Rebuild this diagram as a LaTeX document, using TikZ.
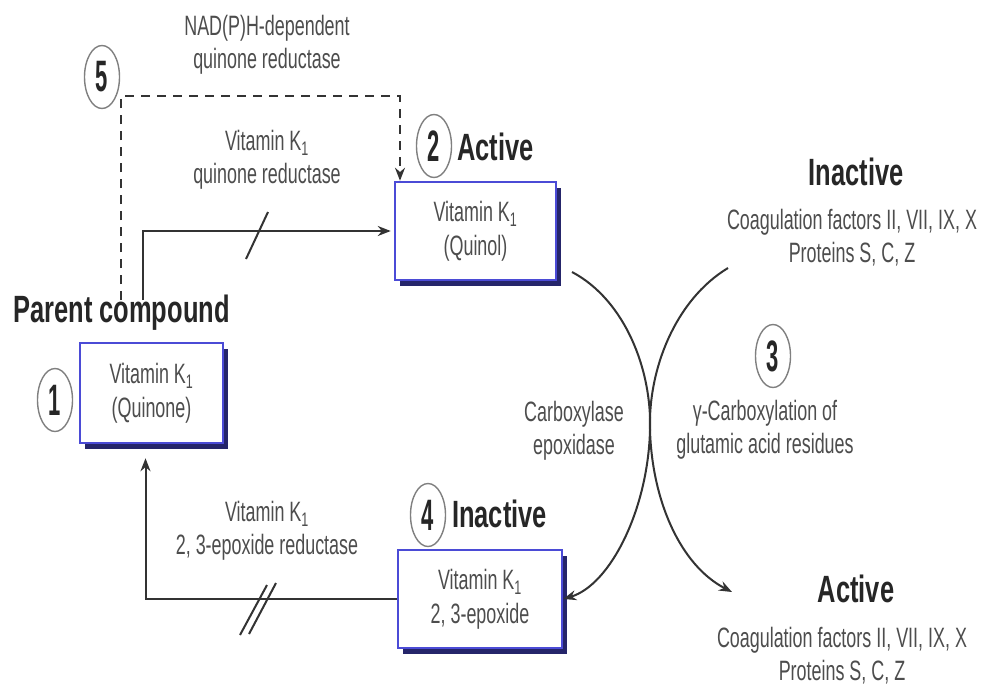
\documentclass[tikz,border=0pt]{standalone}
\usepackage{fontspec}
\setmainfont{Liberation Sans}[FakeStretch=0.64]
\newfontfamily\headfont{Liberation Sans}[FakeStretch=0.67]
\newfontfamily\numfont{Liberation Sans}[FakeStretch=0.5]
\usetikzlibrary{arrows.meta,shadows,shapes.geometric}
\definecolor{boxblue}{HTML}{4B4BD6}
\definecolor{shadownavy}{HTML}{25256A}
\definecolor{txtgray}{HTML}{4D4D4D}
\definecolor{linegray}{HTML}{333333}
\begin{document}
\begin{tikzpicture}[x=1pt,y=-1pt,
 lbl/.style={text=txtgray, font=\fontsize{28}{33}\selectfont, align=center, inner sep=0pt},
 head/.style={text=black!85, font=\headfont\bfseries\fontsize{38}{40}\selectfont, inner sep=0pt},
 num/.style={ellipse, draw=black!50, line width=1.4pt, minimum width=35pt, minimum height=63pt, inner sep=0pt, font=\numfont\bfseries\fontsize{44}{44}\selectfont, text=black!85},
 vbox/.style={rectangle, draw=boxblue, line width=2.5pt, fill=white, align=center, text=txtgray, font=\fontsize{28}{34}\selectfont, inner sep=0pt, drop shadow={shadow xshift=5pt, shadow yshift=-6pt, fill=shadownavy, opacity=1}},
 conn/.style={draw=linegray, line width=2pt},
 tip/.style={-{Stealth[length=13pt,width=10pt]}},
 arr/.style={conn, tip},
 dashline/.style={conn, dash pattern=on 9pt off 7pt},
]
\fill[white] (0,0) rectangle (985,694);
\useasboundingbox (0,0) rectangle (985,694);

% boxes
\node[vbox, minimum width=143pt, minimum height=100pt] (qk) at (151.5,393) {Vitamin K\textsubscript{1}\\(Quinone)};
\node[vbox, minimum width=161pt, minimum height=98pt] (qn) at (475.5,231) {Vitamin K\textsubscript{1}\\(Quinol)};
\node[vbox, minimum width=164pt, minimum height=98pt] (ep) at (480,599) {Vitamin K\textsubscript{1}\\2, 3-epoxide};

% numbers
\node[num] (n1) at (55,400) {1};
\node[num] (n2) at (434,146) {2};
\node[num] (n3) at (773,356) {3};
\node[num] (n4) at (428,515) {4};
\node[num] (n5) at (102,77) {5};

% headings
\node[head, anchor=base] (hpc) at (121.5,322) {Parent compound};
\node[head, anchor=base west] (ha2) at (457,160) {Active};
\node[head, anchor=base west] (hi4) at (452,527) {Inactive};
\node[head, anchor=base] (hir) at (856,185) {Inactive};
\node[head, anchor=base] (har) at (856,602) {Active};

% labels
\node[lbl] (lnad) at (267,45) {NAD(P)H-dependent\\quinone reductase};
\node[lbl] (lqr) at (267,160) {Vitamin K\textsubscript{1}\\quinone reductase};
\node[lbl] (ler) at (267,531) {Vitamin K\textsubscript{1}\\2, 3-epoxide reductase};
\node[lbl] (lce) at (574,431) {Carboxylase\\epoxidase};
\node[lbl] (lgc) at (765,430) {γ-Carboxylation of\\glutamic acid residues};
\node[lbl] (lin) at (852,238) {Coagulation factors II, VII, IX, X\\Proteins S, C, Z};
\node[lbl] (lac) at (842,656) {Coagulation factors II, VII, IX, X\\Proteins S, C, Z};

% coordinates
\coordinate (a1) at (143,300);
\coordinate (d0) at (121,300);
\coordinate (dc) at (400,96);
\coordinate (c1s) at (572,272);
\coordinate (c2s) at (728,268);
\coordinate (c2e) at (732,592);

% dashed NAD(P)H path
\draw[dashline, tip] (d0) |- (dc) -- (dc |- qn.north);
% quinone reductase
\draw[arr, shorten >=3pt] (a1) |- (qn.west);
\draw[conn] (246,259) -- (268,212);
% epoxide reductase
\draw[arr] (ep.west) -| ([xshift=-6pt,yshift=-14pt]qk.south);
\draw[conn] (240,635) -- (267,585);
\draw[conn] (249,634) -- (276,583);
% carboxylase epoxidase
\draw[arr] (c1s) .. controls (625,300) and (652,370) .. (650,430) .. controls (648,510) and (610,585) .. (ep.east);
% gamma carboxylation
\draw[arr] (c2s) .. controls (675,300) and (648,370) .. (650,430) .. controls (652,500) and (680,565) .. (c2e);
\end{tikzpicture}
\end{document}
